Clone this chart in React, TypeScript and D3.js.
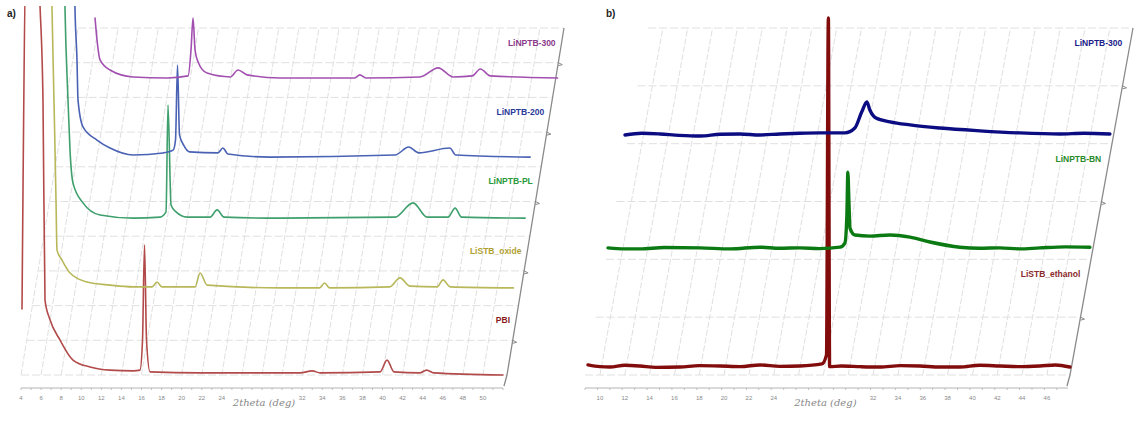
import React from 'react';
import * as d3 from 'd3';

type Pt = [number, number];

// ---------- Panel a data (2θ, intensity a.u.) ----------
const A_TICKS = [4, 6, 8, 10, 12, 14, 16, 18, 20, 22, 24, 26, 28, 30, 32, 34, 36, 38, 40, 42, 44, 46, 48, 50];
const A_TICK_LABELS = [4, 6, 8, 10, 12, 14, 16, 18, 20, 22, 24, 32, 34, 36, 38, 40, 42, 44, 46, 48, 50];
const A_NAMES = ['PBI', 'LiSTB_oxide', 'LiNPTB-PL', 'LiNPTB-200', 'LiNPTB-300'];
const A_PBI: Pt[] = [[4.1, 19], [4.55, 125], [5.7, 125], [5.85, 110], [6.19, 79], [6.39, 21.6], [6.89, 15.9], [7.88, 10.1], [9.18, 4.3], [10.87, 2.3], [12.86, 1.4], [15.16, 1.2], [15.85, 1.4], [16.1, 10], [16.3, 37.5], [16.5, 10], [16.85, 0.9], [21.83, 0.6], [31.8, 0.6], [33.0, 1.2], [33.8, 0.6], [39.76, 0.9], [40.45, 4.3], [41.15, 0.9], [43.7, 0.6], [44.4, 1.4], [45.1, 0.6], [52, 0]];
const A_OXIDE: Pt[] = [[5.75, 102], [5.95, 85.8], [6.35, 30.4], [6.45, 16], [6.95, 13.1], [7.75, 9.4], [9.44, 6.8], [11.73, 5.9], [14.02, 5.4], [15.91, 5.4], [16.41, 6.8], [16.9, 5.4], [20.2, 5.4], [20.7, 9.4], [21.4, 5.9], [28.67, 5.1], [32.6, 5.1], [33.1, 6.5], [33.6, 5.1], [39.6, 5.4], [40.6, 8], [41.6, 5.6], [44.3, 5.4], [44.9, 7.4], [45.6, 5.4], [51.9, 5.1]];
const A_PL: Pt[] = [[6.01, 82.5], [6.11, 65.8], [6.41, 39.3], [6.61, 24.8], [6.91, 15.3], [7.9, 9.6], [9.6, 6.1], [12.88, 5.2], [15.57, 5.5], [16.17, 7], [16.37, 37.8], [16.67, 9], [17.17, 7], [18.26, 5.5], [20.56, 5.5], [21.26, 7.6], [21.95, 5.5], [27.53, 5.2], [38.98, 5.5], [40.77, 9.6], [42.17, 5.5], [44.26, 5.5], [44.96, 8.1], [45.6, 5.5], [51.93, 5.2]];
const A_200: Pt[] = [[5.87, 62.5], [5.97, 45.8], [6.17, 30.8], [6.27, 19.3], [6.77, 11.5], [8.16, 7.7], [9.46, 5.4], [11.75, 3.4], [14.74, 4], [15.74, 4.8], [15.98, 7.7], [16.18, 29.3], [16.38, 9.2], [16.78, 6.3], [17.37, 4.3], [20.2, 4], [20.7, 5.4], [21.2, 3.7], [25.4, 2.8], [37.85, 3.4], [39.2, 5.7], [40.2, 4], [43.3, 5.4], [43.9, 3.4], [51.3, 2.8]];
const A_300: Pt[] = [[6.83, 22.9], [7.03, 16.5], [7.33, 10.8], [8.32, 7.9], [10.61, 5.9], [14, 5.6], [16.1, 6.2], [16.39, 13.7], [16.59, 22.9], [16.79, 13.7], [17.09, 10.2], [17.99, 7], [20.3, 5.9], [21.07, 7.9], [21.97, 6.5], [25.25, 5.6], [32.7, 5.6], [33.2, 6.5], [33.8, 5.6], [39.2, 5.9], [41, 8.5], [42.5, 5.9], [44.4, 6.2], [45.2, 8.2], [46.2, 6.2], [52.9, 5.6]];
const A_COLORS = ['#b24a4a', '#b8b85a', '#3fa06e', '#4a62b4', '#a250b0'];
const A_LABEL_COLORS = ['#8a1a1a', '#b0a030', '#2a9a3a', '#2a3a9a', '#8a3a8a'];

// ---------- Panel b data ----------
const B_TICKS = [10, 12, 14, 16, 18, 20, 22, 24, 26, 28, 30, 32, 34, 36, 38, 40, 42, 44, 46];
const B_TICK_LABELS = [10, 12, 14, 16, 18, 20, 22, 24, 32, 34, 36, 38, 40, 42, 44, 46];
const B_NAMES = ['LiSTB_ethanol', 'LiNPTB-BN', 'LiNPTB-300'];
const B_ETHANOL: Pt[] = [[9.04, 2.9], [10.0, 2.4], [10.81, 2.3], [12.0, 2.8], [13.23, 2.6], [14.5, 2.2], [16.45, 2.3], [18, 2.7], [19.67, 2.6], [21.3, 2.4], [22.89, 2.9], [24.5, 2.5], [26.11, 2.6], [27.88, 3.2], [28.25, 5.8], [28.4, 102.9], [28.5, 2.4], [29.43, 2.6], [31, 2.4], [32.55, 2.3], [34.2, 2.7], [35.77, 2.6], [37.4, 2.3], [38.99, 2.3], [40.6, 2.8], [42.21, 2.6], [43.8, 2.4], [45.43, 2.6], [46.7, 2.9], [47.85, 2.3]];
const B_BN: Pt[] = [[8.96, 3.3], [10.3, 3.0], [11.54, 3], [13.5, 3.4], [16.37, 3.3], [18.8, 3.0], [21.2, 3.5], [22.8, 3.2], [24.4, 3.3], [26, 3.1], [27.64, 3.5], [28.04, 4.7], [28.2, 12.7], [28.28, 25.1], [28.36, 17.1], [28.45, 9], [28.85, 7], [30.06, 6.7], [31.67, 7], [33.28, 6.4], [34.89, 5], [37.3, 3.5], [38.9, 3.2], [40.52, 3.3], [42.1, 3.0], [43.74, 3.3], [45.8, 3.6], [47.77, 3.5]];
const B_300: Pt[] = [[8.64, 2.5], [10.0, 3.0], [11.46, 2.8], [13.0, 2.4], [14.68, 2.2], [16.3, 2.7], [17.9, 2.8], [19.5, 2.5], [21.12, 2.8], [22.7, 3.0], [24.34, 3.1], [26.35, 3.1], [27.15, 4.5], [27.7, 9.1], [28.12, 12], [28.36, 9.7], [28.85, 7.4], [29.98, 6.3], [31.59, 5.4], [34, 4.5], [37.22, 3.7], [40.44, 3.1], [43.66, 2.8], [45.6, 3.0], [47.69, 2.8]];
const B_COLORS = ['#820c0c', '#0c7a12', '#0c0c82'];
const B_LABEL_COLORS = ['#8a2a2a', '#2a8a2a', '#1a1a8a'];

const AXIS_TITLE = '2theta (deg)';

interface PanelProps {
  id: string;
  letter: string;
  letterX: number;
  xDomain: [number, number];
  xRange: [number, number];
  rightX: number;
  shiftX: number;
  depthH: number;
  floorY: number;
  axisY: number;
  ticks: number[];
  tickLabels: number[];
  minorStep: number;
  series: Pt[][];
  colors: string[];
  labelColors: string[];
  names: string[];
  depthStep: number;
  gridLevels: number;
  axisTickLevels: number[];
  labelDepth: number;
  labelGap: number;
  strokeW: number;
  titleAt: number;
  clip: [number, number];
}

function Panel(p: PanelProps) {
  const x = d3.scaleLinear().domain(p.xDomain).range(p.xRange);
  const y = d3.scaleLinear().domain([0, 100]).range([0, p.depthH]);
  const depth = (d: number) => ({ dx: d * p.shiftX, dy: d * p.depthH });
  const leftX = p.xRange[0];
  const topY = p.floorY - p.depthH;

  const gridH = d3.range(0, p.gridLevels + 1).map((k) => k / p.gridLevels);
  const minor = d3.range(p.xDomain[0], p.xDomain[1] + 1e-6, p.minorStep);

  return (
    <g>
      <defs>
        <clipPath id={p.id}>
          <rect x={p.clip[0]} y={6} width={p.clip[1] - p.clip[0]} height={420} />
        </clipPath>
      </defs>
      {/* floor-depth grid */}
      <g stroke="#e0e0e0" strokeWidth={1} fill="none">
        {p.ticks.map((t) => (
          <line key={'v' + t} x1={x(t)} y1={p.floorY} x2={x(t) + p.shiftX} y2={topY} strokeDasharray="6,2" />
        ))}
        {gridH.map((d) => {
          const o = depth(d);
          return <line key={'h' + d} x1={leftX + o.dx} x2={p.rightX + o.dx} y1={p.floorY - o.dy} y2={p.floorY - o.dy} strokeDasharray="8,3" />;
        })}
      </g>
      {/* right slanted axis */}
      <path
        d={`M${p.rightX - 3},${p.axisY - 2}L${p.rightX},${p.floorY}L${p.rightX + p.shiftX},${topY}`}
        stroke="#8a8a8a"
        strokeWidth={1.3}
        fill="none"
      />
      {p.axisTickLevels.map((d) => {
        const o = depth(d);
        const xx = p.rightX + o.dx;
        const yy = p.floorY - o.dy;
        return <path key={'at' + d} d={`M${xx},${yy}l4,2l-4,1`} stroke="#8a8a8a" strokeWidth={1} fill="none" />;
      })}
      {/* bottom axis */}
      <line x1={p.xRange[0]} x2={p.xRange[1]} y1={p.axisY} y2={p.axisY} stroke="#b4b4b4" strokeWidth={1} />
      {minor.map((t) => (
        <line key={'m' + t} x1={x(t)} x2={x(t)} y1={p.axisY} y2={p.axisY + 2} stroke="#b4b4b4" strokeWidth={0.8} />
      ))}
      {p.tickLabels.map((t) => (
        <text key={'t' + t} x={x(t)} y={p.axisY + 12} fontSize={6} fill="#8a8a8a" textAnchor="middle" fontFamily="Arial, sans-serif">
          {t}
        </text>
      ))}
      <text x={x(p.titleAt) + 2} y={p.axisY + 18} fontSize={10} fill="#888" textAnchor="middle" fontFamily="DejaVu Serif, serif" fontStyle="italic">
        {AXIS_TITLE}
      </text>
      {/* series */}
      <g clipPath={`url(#${p.id})`}>
        {p.series.map((s, i) => {
          const o = depth(i * p.depthStep);
          const line = d3
            .line<Pt>()
            .x((q) => x(q[0]) + o.dx)
            .y((q) => p.floorY - o.dy - y(q[1]))
            .curve(d3.curveMonotoneX);
          return (
            <path key={'s' + i} d={line(s) || ''} fill="none" stroke={p.colors[i]} strokeWidth={p.strokeW} strokeLinejoin="round" strokeLinecap="round" />
          );
        })}
      </g>
      {/* series labels */}
      {p.names.map((n, i) => {
        const o = depth(i * p.depthStep + p.labelDepth);
        return (
          <text
            key={'n' + i}
            x={p.rightX + o.dx - p.labelGap}
            y={p.floorY - o.dy + 3}
            fontSize={8.5}
            fontWeight="bold"
            fill={p.labelColors[i]}
            textAnchor="end"
            fontFamily="Arial, sans-serif"
          >
            {n}
          </text>
        );
      })}
      <text x={p.letterX} y={17} fontSize={10} fontWeight="bold" fill="#222" fontFamily="Arial, sans-serif">
        {p.letter}
      </text>
    </g>
  );
}

export default function App() {
  return (
    <svg width={1147} height={424} style={{ position: 'absolute', left: 0, top: 0, background: '#fff' }}>
      <rect width={1147} height={424} fill="#fff" />
      <Panel
        id="clipA"
        letter="a)"
        letterX={7}
        xDomain={[4, 52]}
        xRange={[21, 503]}
        rightX={507}
        shiftX={57}
        depthH={347}
        floorY={375}
        axisY={388}
        ticks={A_TICKS}
        tickLabels={A_TICK_LABELS}
        minorStep={1}
        series={[A_PBI, A_OXIDE, A_PL, A_200, A_300]}
        colors={A_COLORS}
        labelColors={A_LABEL_COLORS}
        names={A_NAMES}
        depthStep={0.2}
        gridLevels={10}
        axisTickLevels={[0.1, 0.3, 0.5, 0.7, 0.9]}
        labelDepth={0.158}
        labelGap={6}
        strokeW={1.6}
        titleAt={28}
        clip={[0, 575]}
      />
      <Panel
        id="clipB"
        letter="b)"
        letterX={606}
        xDomain={[8.8, 47.7]}
        xRange={[585, 1068]}
        rightX={1070}
        shiftX={63}
        depthH={347}
        floorY={375}
        axisY={388}
        ticks={B_TICKS}
        tickLabels={B_TICK_LABELS}
        minorStep={1}
        series={[B_ETHANOL, B_BN, B_300]}
        colors={B_COLORS}
        labelColors={B_LABEL_COLORS}
        names={B_NAMES}
        depthStep={1 / 3}
        gridLevels={6}
        axisTickLevels={[1 / 6, 3 / 6, 5 / 6]}
        labelDepth={0.29}
        labelGap={8}
        strokeW={3.4}
        titleAt={28}
        clip={[580, 1147]}
      />
    </svg>
  );
}
